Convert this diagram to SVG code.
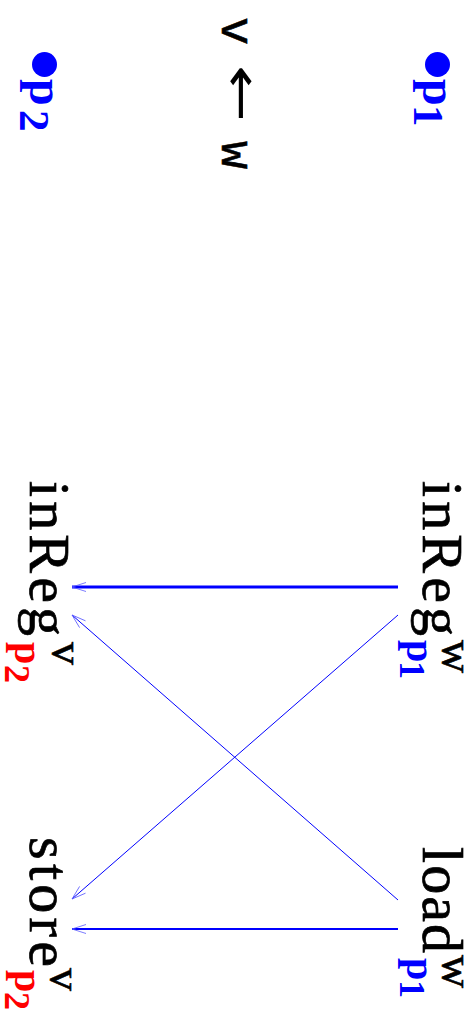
<svg xmlns="http://www.w3.org/2000/svg" width="475" height="1024" viewBox="0 0 475 1024">
<defs>
<style>
.main{font-family:"Liberation Serif",serif;font-size:58px;fill:#000;stroke:#000;stroke-width:0.7px}
.sup{font-family:"Liberation Serif",serif;font-size:46px;fill:#000;stroke:#000;stroke-width:0.6px}
.subp{font-family:"Liberation Serif",serif;font-weight:bold;font-size:40px}
.subd{font-family:"Liberation Serif",serif;font-weight:bold;font-size:36px}
.lp{font-family:"Liberation Serif",serif;font-weight:bold;font-size:48px;fill:#0000ff}
.ld{font-family:"Liberation Serif",serif;font-weight:bold;font-size:43px;fill:#0000ff}
.tt{font-family:"Liberation Mono",monospace;font-size:47px;fill:#000;stroke:#000;stroke-width:0.6px}
.arrow{font-family:"DejaVu Sans",sans-serif;font-size:50px;fill:#000}
.blue{fill:#0000ff}
.red{fill:#ff0000}
.edge{stroke:#0000ff;fill:none}
</style>
<marker id="ah" viewBox="-16 -7 18 14" refX="0" refY="0" markerWidth="18" markerHeight="14" markerUnits="userSpaceOnUse" orient="auto" overflow="visible">
<path d="M-14,-4.5 L0,0 L-14,4.5" fill="none" stroke="#5a5aff" stroke-width="0.8"/>
</marker>
</defs>

<g id="legend">
<circle cx="437.5" cy="64.5" r="12.5" fill="#0000ff"/>
<circle cx="44.5" cy="64.5" r="12.5" fill="#0000ff"/>
<g transform="rotate(90)">
<text class="lp" x="79" y="-423">p<tspan class="ld" x="105" y="-414">1</tspan></text>
<text class="lp" x="79" y="-30">p<tspan class="ld" x="110" y="-20">2</tspan></text>
<text class="tt" x="17" y="-222">v</text>
<text class="arrow" x="65" y="-225" textLength="57" lengthAdjust="spacingAndGlyphs">←</text>
<text class="tt" x="141" y="-222">w</text>
</g>
</g>

<g id="connectors">
<line class="edge" x1="398" y1="587" x2="72" y2="587" stroke-width="3" marker-end="url(#ah)"/>
<line class="edge" x1="398" y1="615" x2="72" y2="899" stroke-width="1" marker-end="url(#ah)"/>
<line class="edge" x1="398" y1="900" x2="72" y2="615" stroke-width="1" marker-end="url(#ah)"/>
<line class="edge" x1="398" y1="929" x2="72" y2="929" stroke-width="2" marker-end="url(#ah)"/>
</g>

<g id="inReg_w_p1" transform="rotate(90)">
<text class="main" x="481" y="-423" textLength="155" lengthAdjust="spacing">inReg</text>
<text class="sup" x="640" y="-442">w</text>
<text class="subp blue" x="640" y="-407">p<tspan class="subd" x="661" y="-400">1</tspan></text>
</g>

<g id="inReg_v_p2" transform="rotate(90)">
<text class="main" x="481" y="-30" textLength="155" lengthAdjust="spacing">inReg</text>
<text class="sup" x="642" y="-52">v</text>
<text class="subp red" x="642" y="-15">p<tspan class="subd" x="665" y="-5">2</tspan></text>
</g>

<g id="load_w_p1" transform="rotate(90)">
<text class="main" x="847" y="-423" textLength="106" lengthAdjust="spacing">load</text>
<text class="sup" x="955" y="-442">w</text>
<text class="subp blue" x="958" y="-407">p<tspan class="subd" x="980" y="-400">1</tspan></text>
</g>

<g id="store_v_p2" transform="rotate(90)">
<text class="main" x="837" y="-30" textLength="130" lengthAdjust="spacing">store</text>
<text class="sup" x="968" y="-50">v</text>
<text class="subp red" x="970" y="-15">p<tspan class="subd" x="992" y="-5">2</tspan></text>
</g>
</svg>
